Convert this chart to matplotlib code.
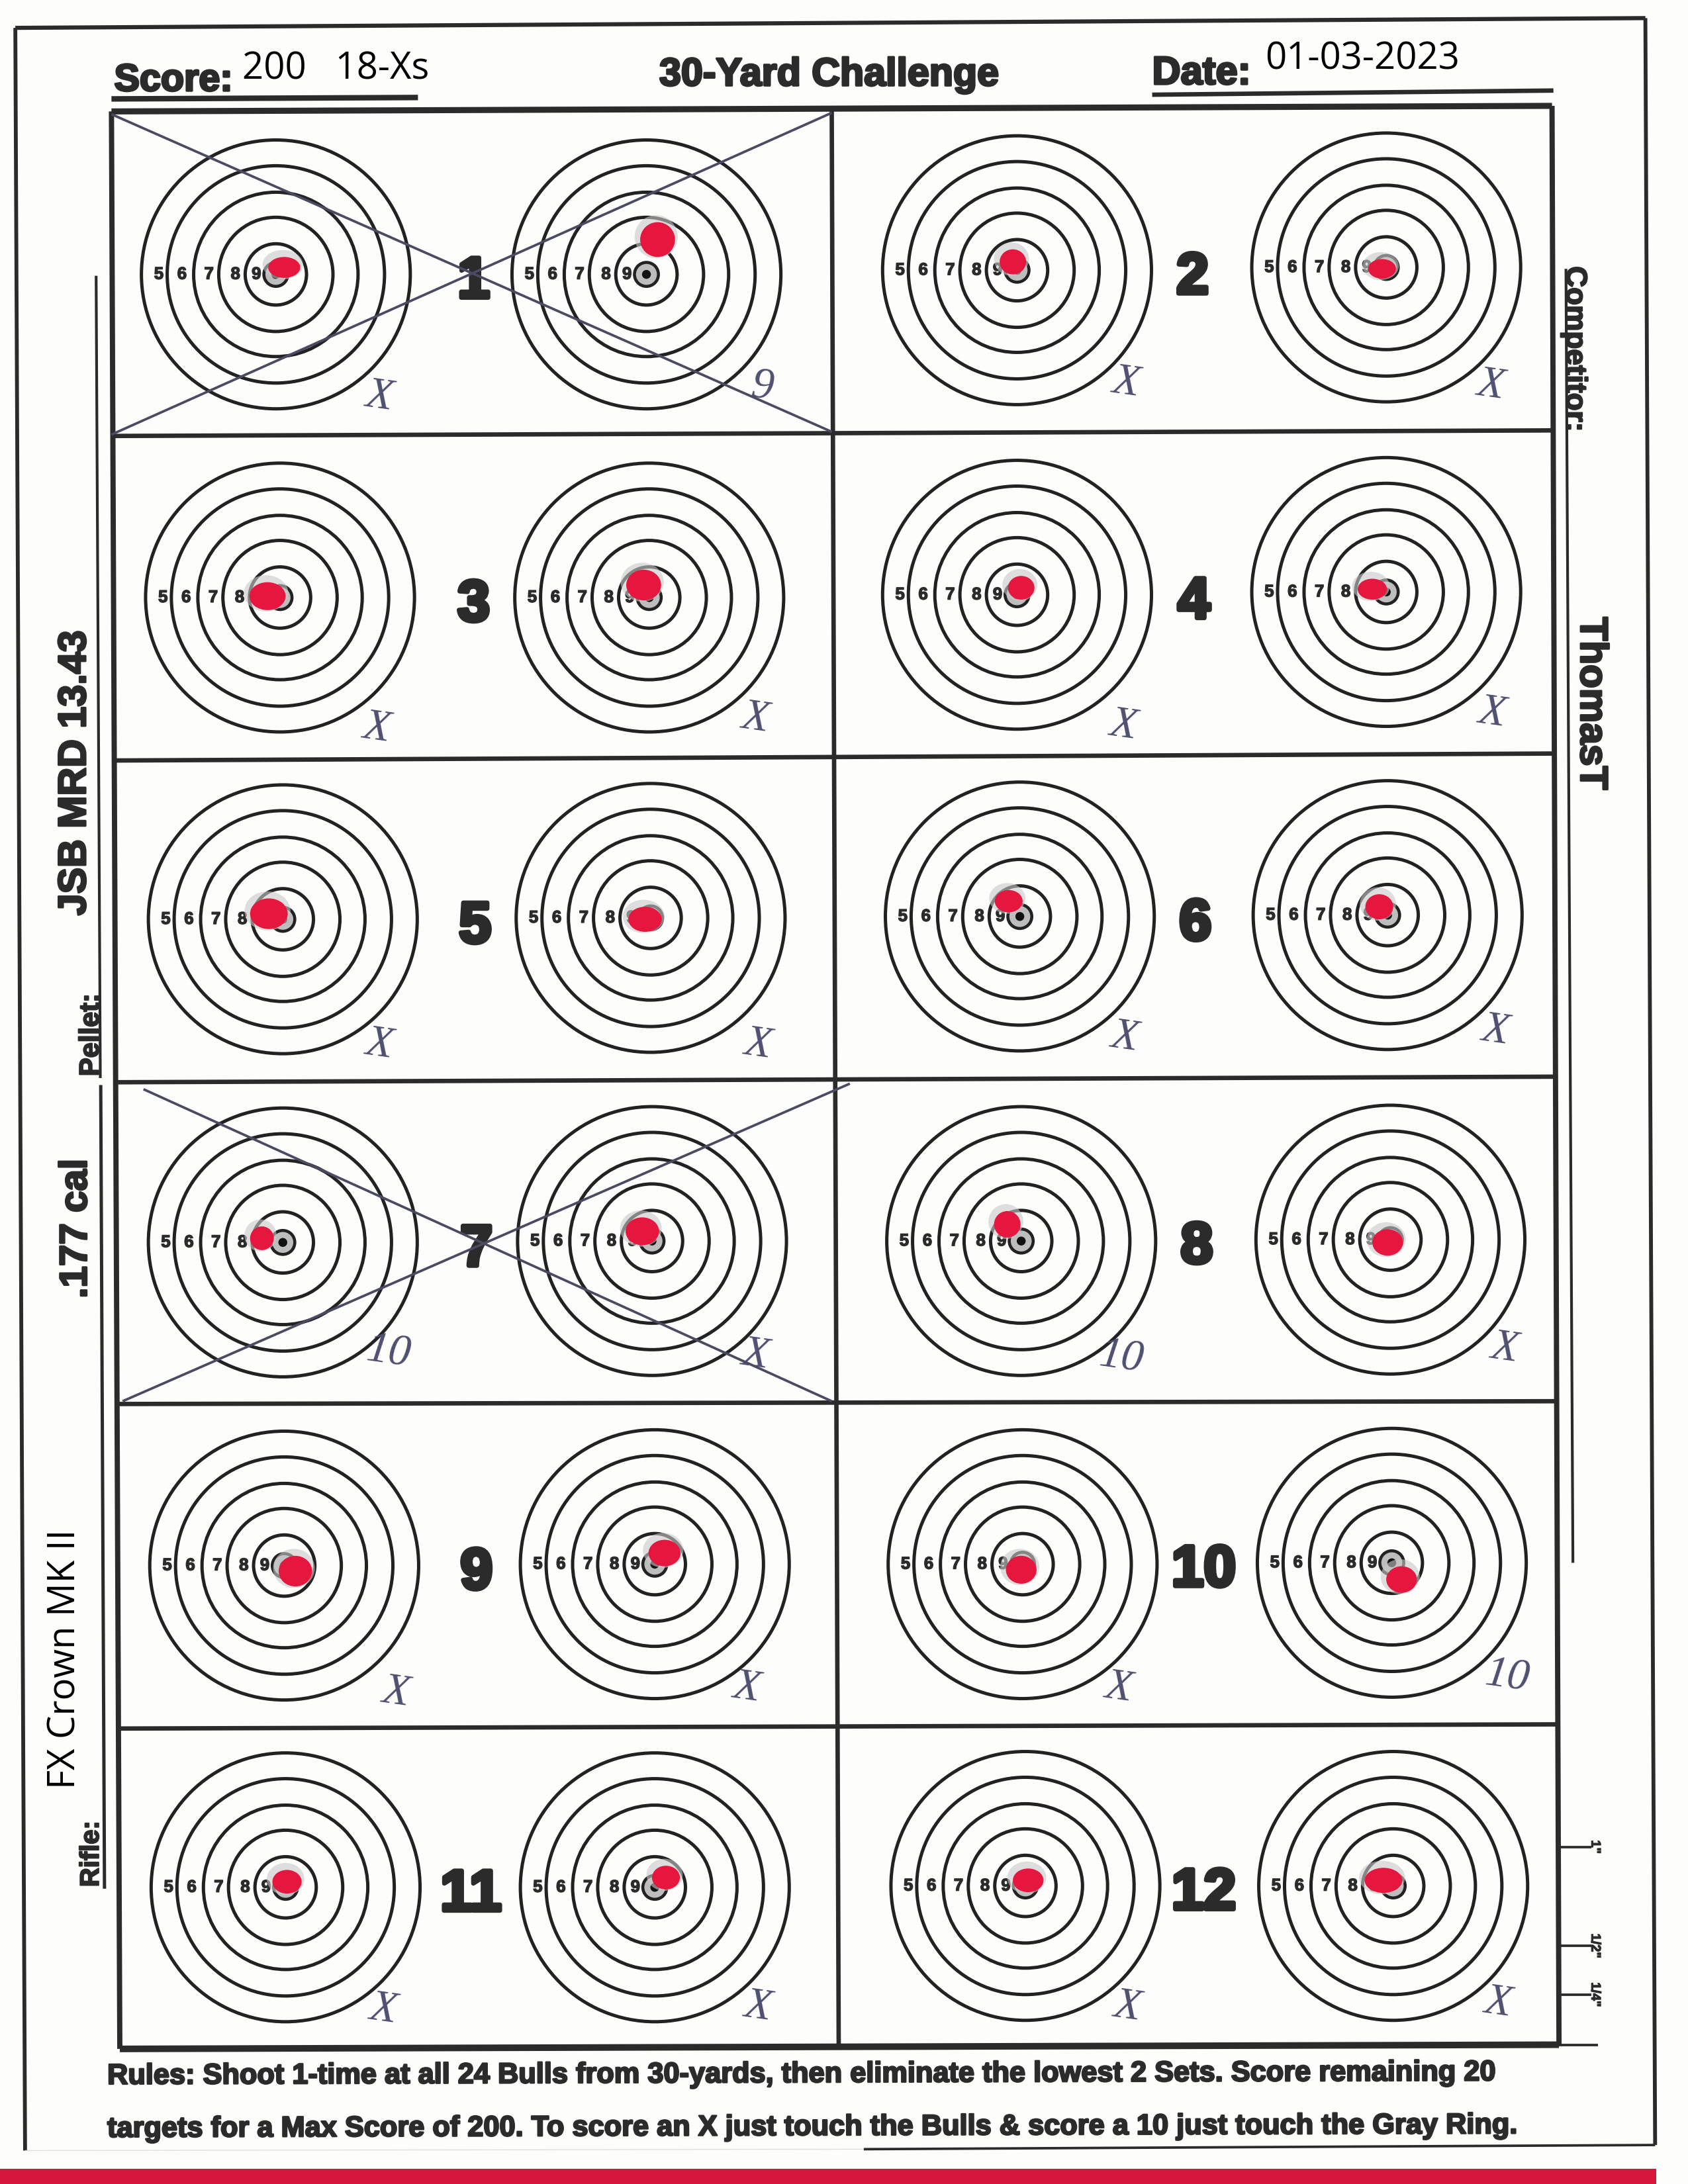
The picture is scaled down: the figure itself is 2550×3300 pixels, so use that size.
import matplotlib
matplotlib.use('Agg')
import matplotlib.pyplot as plt
import matplotlib.patheffects as pe
from matplotlib.patches import Circle, Ellipse, Rectangle

# target centres, row by row (left set then right set)
centres = [(198, 197), (464, 197), (730, 194), (995, 192),
           (201, 429), (466, 429), (730, 427), (995, 425),
           (203, 660), (467, 659), (732, 658), (996, 657),
           (203, 892), (468, 891), (733, 891), (998, 890),
           (204, 1124), (470, 1123), (734, 1123), (999, 1122),
           (205, 1355), (470, 1355), (736, 1354), (1000, 1354)]
holes = [(204, 192), (472, 172), (727, 188), (992, 193),
         (192, 428), (462, 420), (733, 422), (985, 423),
         (193, 656), (463, 660), (724, 647), (990, 651),
         (188, 889), (461, 884), (723, 879), (996, 892),
         (212, 1128), (477, 1115), (733, 1127), (1006, 1134),
         (206, 1351), (478, 1348), (738, 1350), (993, 1350)]
hole_w = [23, 25, 19, 20, 26, 25, 19, 21, 27, 24, 20, 20, 17, 24, 19, 22, 24, 23, 22, 22, 21, 20, 22, 27]
hole_h = [15, 25, 18, 14, 20, 22, 17, 15, 22, 18, 16, 18, 17, 20, 19, 19, 22, 19, 20, 19, 17, 17, 17, 18]
marks = ['X', '9', 'X', 'X', 'X', 'X', 'X', 'X', 'X', 'X', 'X', 'X',
         '10', 'X', '10', 'X', 'X', 'X', 'X', '10', 'X', 'X', 'X', 'X']
mark_pos = [(272, 285), (547, 278), (808, 275), (1070, 277),
            (270, 523), (542, 516), (806, 521), (1071, 512),
            (272, 750), (544, 750), (807, 745), (1073, 740),
            (279, 971), (542, 973), (805, 975), (1080, 1204 - 236),
            (284, 1215), (536, 1212), (803, 1212), (1082, 1204),
            (275, 1443), (544, 1441), (809, 1441), (1075, 1438)]
ring_radii = [96.5, 78, 59, 41, 22, 8.6]
ring_labels = ['5', '6', '7', '8', '9']
label_dx = [-84, -67.4, -48, -29, -14]
set_names = ['1', '2', '3', '4', '5', '6', '7', '8', '9', '10', '11', '12']
set_pos = [(340, 200), (856, 197), (340, 432), (857, 430), (341, 663), (858, 661),
           (342, 895), (859, 893), (342, 1127), (864, 1125), (338, 1358), (864, 1357)]
row_left = [(80, 80), (82, 313), (83, 546), (84, 777), (85, 1008), (85, 1241), (86, 1471)]
row_right = [(1114, 76), (1114, 309), (1115, 541), (1116, 773), (1117, 1006), (1118, 1238), (1119, 1468)]
row_width = [2.2, 1.6, 1.6, 1.6, 1.6, 1.6, 2.4]
scale_y = [1326, 1397, 1432]
scale_labels = ['1"', '1/2"', '1/4"']

INK = '#2b2b2b'
PEN = '#4f4f70'
BLACK = ['Liberation Sans']

fig = plt.figure(figsize=(8.5, 11), dpi=300, facecolor='#fdfdfb')
ax = fig.add_axes([0, 0, 1, 1])
ax.set_xlim(0, 1211.6)
ax.set_ylim(1568, 0)
ax.axis('off')


def heavy(x, y, s, size, rot=0.0, ha='center', va='center', stroke=0.5):
    t = ax.text(x, y, s, fontsize=size, family=BLACK, weight='bold', color=INK,
                rotation=rot, ha=ha, va=va, rotation_mode='anchor')
    t.set_path_effects([pe.withStroke(linewidth=stroke, foreground=INK)])
    return t


def line(x0, y0, x1, y1, lw=1.4, color=INK, z=2):
    ax.plot([x0, x1], [y0, y1], color=color, lw=lw, solid_capstyle='butt', zorder=z)


# red band under the sheet
ax.add_patch(Rectangle((0, 1557), 1189, 11, fc='#d6163c', ec='none'))

# page frame
line(11, 20, 1181, 13, 1.5)
line(11, 20, 18, 1544, 1.4)
line(1181, 13, 1188, 1540, 1.4)
line(18, 1544, 620, 1543, 0.3, '#dddddd')
line(620, 1543, 1188, 1540, 0.9)

# grid
for a, b, lw in zip(row_left, row_right, row_width):
    line(a[0], a[1], b[0], b[1], lw)
line(80, 80, 86, 1471, 1.9)
line(1114, 76, 1119, 1468, 1.9)
line(597, 78, 602, 1470, 1.6)

# targets
for (cx, cy) in centres:
    for r in ring_radii[:-1]:
        ax.add_patch(Circle((cx, cy), r, fc='none', ec='#222222', lw=1.2, zorder=3))
    ax.add_patch(Circle((cx, cy), ring_radii[-1], fc='#bdbdbd', ec='#222222', lw=1.1, zorder=3))
    ax.add_patch(Circle((cx, cy), 3.2, fc='#111111', ec='none', zorder=3))
    for s, dx in zip(ring_labels, label_dx):
        heavy(cx + dx, cy, s, 6.2, stroke=0.35)

# pellet holes
for (hx, hy), w, h in zip(holes, hole_w, hole_h):
    ax.add_patch(Ellipse((hx - 1, hy - 2), w + 6, h + 6, fc='#c9c9c9', ec='none', alpha=0.6, zorder=4))
    ax.add_patch(Ellipse((hx, hy), w, h, fc='#e5173f', ec='none', zorder=5))

# hand written scores
for s, (mx, my) in zip(marks, mark_pos):
    ax.text(mx, my, s, fontsize=16, family=['Liberation Serif'], style='italic', color=PEN,
            ha='center', va='center', rotation=-8, zorder=6)

# set numbers
for s, (nx, ny) in zip(set_names, set_pos):
    heavy(nx, ny + 3, s, 21, stroke=1.6)

# crossed out sets
for x0, y0, x1, y1 in [(80, 82, 597, 310), (80, 312, 597, 81), (103, 782, 597, 1006), (88, 1006, 610, 778)]:
    line(x0, y0, x1, y1, 0.9, '#4a4a62', 7)

# header
heavy(82, 58, 'Score:', 13.8, ha='left', stroke=0.8)
heavy(595, 54, '30-Yard Challenge', 14.2, stroke=0.8)
heavy(827, 53, 'Date:', 14.3, ha='left', stroke=0.8)
ax.text(174, 50, '200   18-Xs', fontsize=13.5, family=['Open Sans'], color='black', ha='left', va='center')
ax.text(908, 43, '01-03-2023', fontsize=13.5, family=['Open Sans'], color='black', ha='left', va='center')
line(80, 71, 300, 70, 2.0)
line(827, 68, 1115, 65, 1.6)

# side fields
line(69, 198, 72, 774, 1.0)
line(72.3, 779, 75, 1356, 1.2)
heavy(65.5, 1331, 'Rifle:', 9.6, rot=90, stroke=0.5)
heavy(65.5, 743, 'Pellet:', 10, rot=90, stroke=0.5)
heavy(54, 555, 'JSB MRD 13.43', 14.2, rot=90, stroke=0.7)
heavy(55, 882, '.177 cal', 14, rot=90, stroke=0.7)
ax.text(47, 1191, 'FX Crown MK II', fontsize=13.5, family=['Open Sans'], color='black', rotation=90,
        ha='center', va='center')
heavy(1130, 250.5, 'Competitor:', 10.6, rot=-90, stroke=0.5)
heavy(1142, 505, 'ThomasT', 14.1, rot=-90, stroke=0.7)
line(1124, 193, 1129, 1122, 1.0)

# scale at lower right
for y, s in zip(scale_y, scale_labels):
    line(1120, y, 1142, y, 0.9)
    heavy(1145, y, s, 4.8, rot=-90, stroke=0.3)
line(1119, 1468, 1147, 1468, 0.9)

# rules
heavy(77, 1491, 'Rules: Shoot 1-time at all 24 Bulls from 30-yards, then eliminate the lowest 2 Sets. Score remaining 20',
      10.4, rot=0.15, ha='left', stroke=0.6)
heavy(77, 1529, 'targets for a Max Score of 200. To score an X just touch the Bulls & score a 10 just touch the Gray Ring.',
      10.4, rot=0.15, ha='left', stroke=0.6)

fig.savefig('out.png', dpi=300, facecolor=fig.get_facecolor())
